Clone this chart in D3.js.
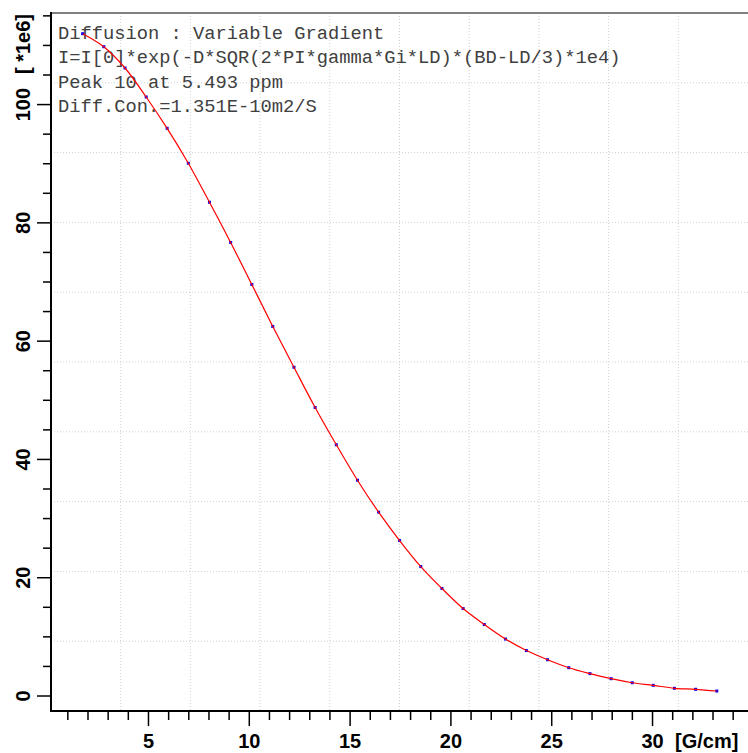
<!DOCTYPE html>
<html>
<head>
<meta charset="utf-8">
<script src="https://cdn.jsdelivr.net/npm/d3@7"></script>
<style>
    body { margin: 0; background: #fff; }
    svg { display: block; }
</style>
</head>
<body>
<svg id="viz" width="748" height="753"></svg>
<script>
// gradient strength [G/cm] of each measured point
var gradients = [1.76, 2.81, 3.86, 4.91, 5.95, 7.00, 8.05, 9.10, 10.15, 11.19,
                 12.24, 13.29, 14.34, 15.39, 16.44, 17.48, 18.53, 19.58, 20.63, 21.68,
                 22.73, 23.77, 24.82, 25.87, 26.92, 27.97, 29.02, 30.06, 31.11, 32.16, 33.21];
// integral of peak 10 [*1e6]
var intensities = [111.9, 109.7, 106.1, 101.2, 95.9, 90.0, 83.4, 76.6, 69.5, 62.4,
                   55.5, 48.7, 42.4, 36.4, 31.0, 26.2, 21.8, 18.1, 14.7, 12.0,
                   9.55, 7.6, 6.05, 4.7, 3.7, 2.84, 2.16, 1.72, 1.22, 1.05, 0.76];
var xMajorTicks = [5, 10, 15, 20, 25, 30];
var yMajorTicks = [0, 20, 40, 60, 80, 100];
var infoLines = [
    "Diffusion : Variable Gradient",
    "I=I[0]*exp(-D*SQR(2*PI*gamma*Gi*LD)*(BD-LD/3)*1e4)",
    "Peak 10 at 5.493 ppm",
    "Diff.Con.=1.351E-10m2/S"
];
var xUnit = "[G/cm]";
var yUnit = "[ *1e6]";

var plot = { left: 51, right: 748, top: 13, bottom: 711 };
var labelFont = "'Liberation Sans', Arial, sans-serif";

var svg = d3.select("#viz");

var x = d3.scaleLinear().domain([0.19, 34.76]).range([plot.left, plot.right]);
var y = d3.scaleLinear().domain([-2.62, 115.4]).range([plot.bottom, plot.top]);

var points = gradients.map(function (g, i) {
    return { g: g, v: intensities[i] };
});

// dotted grid, plot split in ten parts each way
var gridX = d3.range(1, 10).map(function (k) { return plot.left + k * (plot.right - plot.left) / 10; });
var gridY = d3.range(1, 10).map(function (k) { return plot.top + k * (plot.bottom - plot.top) / 10; });

var grid = svg.append("g").attr("class", "grid")
    .attr("stroke", "#d0d0d0").attr("stroke-width", 1).attr("stroke-dasharray", "1,2");
grid.selectAll("line.gx").data(gridX).enter().append("line")
    .attr("x1", function (d) { return d; }).attr("x2", function (d) { return d; })
    .attr("y1", plot.top).attr("y2", plot.bottom);
grid.selectAll("line.gy").data(gridY).enter().append("line")
    .attr("y1", function (d) { return d; }).attr("y2", function (d) { return d; })
    .attr("x1", plot.left).attr("x2", plot.right);

// top frame line
svg.append("line")
    .attr("x1", plot.left).attr("x2", plot.right)
    .attr("y1", plot.top).attr("y2", plot.top)
    .attr("stroke", "#808080").attr("stroke-width", 2);

// info text
svg.append("g").attr("class", "info")
    .selectAll("text").data(infoLines).enter().append("text")
    .attr("x", 58)
    .attr("y", function (d, i) { return 38.5 + i * 24.5; })
    .attr("font-family", "'Liberation Mono', 'Courier New', monospace")
    .attr("font-size", "18.75px")
    .attr("fill", "#404040")
    .text(function (d) { return d; });

// x axis: minor ticks every 1, major every 5
var xMinor = d3.range(1, 35).filter(function (v) { return v % 5 !== 0; });
var xAxisG = svg.append("g").attr("transform", "translate(0," + plot.bottom + ")");
xAxisG.append("g")
    .call(d3.axisBottom(x).tickValues(xMinor).tickSize(9).tickFormat(""))
    .call(function (g) { g.select(".domain").remove(); });
xAxisG.append("g")
    .call(d3.axisBottom(x).tickValues(xMajorTicks).tickSize(15).tickPadding(22))
    .call(function (g) { g.select(".domain").remove(); });
xAxisG.selectAll("line").attr("stroke", "#000").attr("stroke-width", 1.5);
xAxisG.selectAll("text")
    .attr("font-family", labelFont).attr("font-weight", "bold")
    .attr("font-size", "20px").attr("fill", "#000")
    .attr("y", 37).attr("dy", 0);
xAxisG.append("line")
    .attr("x1", plot.left).attr("x2", plot.right)
    .attr("stroke", "#000").attr("stroke-width", 2);
xAxisG.append("text")
    .attr("x", 675).attr("y", 37)
    .attr("font-family", labelFont).attr("font-weight", "bold")
    .attr("font-size", "20px").attr("fill", "#000")
    .text(xUnit);

// y axis: minor ticks every 5, major every 20, labels rotated
var yMinor = d3.range(5, 120, 5).filter(function (v) { return v % 20 !== 0; });
var yAxisG = svg.append("g").attr("transform", "translate(" + plot.left + ",0)");
yAxisG.append("g")
    .call(d3.axisLeft(y).tickValues(yMinor).tickSize(8).tickFormat(""))
    .call(function (g) { g.select(".domain").remove(); });
yAxisG.append("g")
    .call(d3.axisLeft(y).tickValues(yMajorTicks).tickSize(14))
    .call(function (g) { g.select(".domain").remove(); });
yAxisG.selectAll("line").attr("stroke", "#000").attr("stroke-width", 1.5);
yAxisG.selectAll("text")
    .attr("font-family", labelFont).attr("font-weight", "bold")
    .attr("font-size", "20px").attr("fill", "#000")
    .attr("x", 0).attr("dy", 0)
    .attr("text-anchor", "middle")
    .attr("transform", "translate(-21,0) rotate(-90)");
yAxisG.append("line")
    .attr("y1", plot.top - 1).attr("y2", plot.bottom + 1)
    .attr("stroke", "#000").attr("stroke-width", 2);
yAxisG.append("text")
    .attr("transform", "translate(-21," + 14 + ") rotate(-90)")
    .attr("text-anchor", "end")
    .attr("font-family", labelFont).attr("font-weight", "bold")
    .attr("font-size", "20px").attr("fill", "#000")
    .text(yUnit);

// measured points
svg.append("g").attr("class", "points")
    .selectAll("rect").data(points).enter().append("rect")
    .attr("x", function (d) { return x(d.g) - 1.5; })
    .attr("y", function (d) { return y(d.v) - 1.5; })
    .attr("width", 3).attr("height", 3)
    .attr("fill", "#0000ff");

// fitted decay
var line = d3.line()
    .x(function (d) { return x(d.g); })
    .y(function (d) { return y(d.v); })
    .curve(d3.curveCatmullRom);

svg.append("path")
    .datum(points)
    .attr("d", line)
    .attr("fill", "none")
    .attr("stroke", "#ff0000")
    .attr("stroke-width", 1.2);
</script>
</body>
</html>
